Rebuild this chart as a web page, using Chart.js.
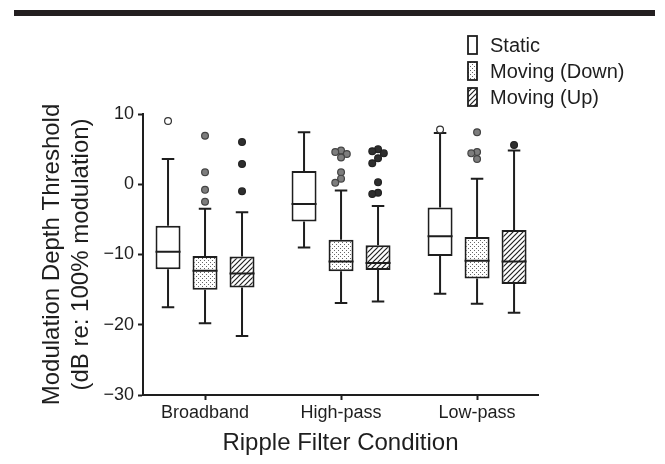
<!DOCTYPE html>
<html>
<head>
<meta charset="utf-8">
<script src="https://cdn.jsdelivr.net/npm/chart.js@4"></script>
<style>
  html, body { margin: 0; padding: 0; background: #fff; }
  #wrap { position: relative; width: 665px; height: 464px; }
  #wrap canvas { position: absolute; left: 0; top: 0; }
  #topbar { position: absolute; left: 14px; top: 10px; width: 641px; height: 6px; background: #231f20; }
</style>
</head>
<body>
<div id="wrap">
  <canvas id="chart" width="665" height="464"></canvas>
  <div id="topbar"></div>
</div>
<script>
const FONT = '"Liberation Sans", Arial, sans-serif';
const INK = '#1e1e1e';

// --- Data (dB re: 100% modulation) ---
const categories = ['Broadband', 'High-pass', 'Low-pass'];
const seriesNames = ['Static', 'Moving (Down)', 'Moving (Up)'];
const yTicks = [-30, -20, -10, 0, 10];

// Static
const staticLow = [-17.5, -9.0, -15.6];
const staticQ1 = [-12.1, -5.3, -10.2];
const staticMed = [-9.6, -2.8, -7.4];
const staticQ3 = [-5.9, 1.9, -3.3];
const staticHigh = [3.6, 7.4, 7.3];
const staticOut = [[9.0], [], [7.8]];

// Moving (Down)
const downLow = [-19.8, -16.9, -17.0];
const downQ1 = [-15.0, -12.4, -13.4];
const downMed = [-12.3, -11.0, -10.9];
const downQ3 = [-10.2, -7.9, -7.5];
const downHigh = [-3.5, -0.9, 0.8];
const downOut = [[6.9, 1.7, -0.8, -2.5], [4.8, 4.6, 4.3, 3.8, 1.7, 0.8, 0.2], [7.4, 4.6, 4.4, 3.6]];

// Moving (Up)
const upLow = [-21.6, -16.7, -18.3];
const upQ1 = [-14.7, -12.2, -14.2];
const upMed = [-12.7, -11.2, -11.0];
const upQ3 = [-10.3, -8.7, -6.5];
const upHigh = [-4.0, -3.1, 4.8];
const upOut = [[6.0, 2.9, -1.0], [5.0, 4.7, 4.4, 3.7, 3.0, 0.3, -1.2, -1.4], [5.6]];

// --- Fill patterns ---
function makeTile(size, draw) {
  const c = document.createElement('canvas');
  c.width = size; c.height = size;
  const g = c.getContext('2d');
  g.fillStyle = '#fff';
  g.fillRect(0, 0, size, size);
  draw(g, size);
  return g.createPattern(c, 'repeat');
}

const dotFill = makeTile(4, (g) => {
  g.fillStyle = '#666';
  g.fillRect(0, 0, 1, 1);
  g.fillRect(2, 2, 1, 1);
});

const hatchFill = makeTile(5, (g, s) => {
  g.strokeStyle = '#222';
  g.lineWidth = 1.2;
  g.beginPath();
  g.moveTo(-1, s + 1); g.lineTo(s + 1, -1);
  g.moveTo(-1, 1); g.lineTo(1, -1);
  g.moveTo(s - 1, s + 1); g.lineTo(s + 1, s - 1);
  g.stroke();
});

function boxData(q1, q3) {
  return categories.map((c, i) => ({ x: i, y: [q1[i], q3[i]] }));
}

// spread outliers sideways when they would overlap
function dodge(pys, r) {
  const placed = [];
  return pys.map(py => {
    for (const k of [0, -1, 1, -2, 2, -3, 3]) {
      const dx = k * r * 1.7;
      if (placed.every(p => Math.hypot(p.dx - dx, p.py - py) >= r * 1.6)) {
        placed.push({ dx, py });
        return dx;
      }
    }
    return 0;
  });
}

// --- Whiskers, medians and outliers on top of the floating bars ---
const boxPlot = {
  id: 'boxPlot',
  afterDatasetsDraw(chart) {
    const ctx = chart.ctx;
    const yScale = chart.scales.y;
    chart.data.datasets.forEach((ds, di) => {
      const meta = chart.getDatasetMeta(di);
      meta.data.forEach((bar, i) => {
        const { x, width } = bar.getProps(['x', 'width'], true);
        const half = width / 2;
        const cap = width * 0.25;
        const [q1, q3] = ds.data[i].y;
        const yMed = yScale.getPixelForValue(ds.med[i]);
        const yQ1 = yScale.getPixelForValue(q1);
        const yQ3 = yScale.getPixelForValue(q3);
        const yLo = yScale.getPixelForValue(ds.low[i]);
        const yHi = yScale.getPixelForValue(ds.high[i]);

        ctx.save();
        ctx.strokeStyle = INK;
        ctx.lineWidth = 2;
        ctx.beginPath();
        ctx.moveTo(x - half, yMed); ctx.lineTo(x + half, yMed);
        ctx.moveTo(x, yQ3); ctx.lineTo(x, yHi);
        ctx.moveTo(x - cap, yHi); ctx.lineTo(x + cap, yHi);
        ctx.moveTo(x, yQ1); ctx.lineTo(x, yLo);
        ctx.moveTo(x - cap, yLo); ctx.lineTo(x + cap, yLo);
        ctx.stroke();

        const r = 3.4;
        const pys = ds.outliers[i].map(v => yScale.getPixelForValue(v));
        const dxs = dodge(pys, r);
        ctx.lineWidth = 1.2;
        ctx.strokeStyle = ds.outlierEdge;
        ctx.fillStyle = ds.outlierColor;
        pys.forEach((py, k) => {
          ctx.beginPath();
          ctx.arc(x + dxs[k], py, r, 0, Math.PI * 2);
          ctx.fill();
          ctx.stroke();
        });
        ctx.restore();
      });
    });
  }
};

// --- Legend stacked in the top-right corner ---
const boxLegend = {
  id: 'boxLegend',
  afterDraw(chart, args, opts) {
    const ctx = chart.ctx;
    ctx.save();
    chart.data.datasets.forEach((ds, i) => {
      const cy = opts.top + i * opts.rowHeight;
      ctx.fillStyle = ds.backgroundColor;
      ctx.fillRect(opts.left, cy - opts.boxHeight / 2, opts.boxWidth, opts.boxHeight);
      ctx.strokeStyle = INK;
      ctx.lineWidth = 1.8;
      ctx.strokeRect(opts.left, cy - opts.boxHeight / 2, opts.boxWidth, opts.boxHeight);
      ctx.fillStyle = INK;
      ctx.font = opts.fontSize + 'px ' + FONT;
      ctx.textBaseline = 'middle';
      ctx.textAlign = 'left';
      ctx.fillText(ds.label, opts.left + opts.boxWidth + opts.gap, cy + 1);
    });
    ctx.restore();
  }
};

const ctx = document.getElementById('chart').getContext('2d');
new Chart(ctx, {
  type: 'bar',
  data: {
    datasets: [
      {
        label: seriesNames[0],
        data: boxData(staticQ1, staticQ3),
        low: staticLow, med: staticMed, high: staticHigh, outliers: staticOut,
        backgroundColor: '#fff',
        outlierColor: '#fff', outlierEdge: '#333'
      },
      {
        label: seriesNames[1],
        data: boxData(downQ1, downQ3),
        low: downLow, med: downMed, high: downHigh, outliers: downOut,
        backgroundColor: dotFill,
        outlierColor: '#7d7d7d', outlierEdge: '#444'
      },
      {
        label: seriesNames[2],
        data: boxData(upQ1, upQ3),
        low: upLow, med: upMed, high: upHigh, outliers: upOut,
        backgroundColor: hatchFill,
        outlierColor: '#2e2e2e', outlierEdge: '#222'
      }
    ]
  },
  options: {
    responsive: false,
    animation: false,
    layout: { padding: { top: 114, right: 127, left: 0, bottom: 0 } },
    datasets: {
      bar: {
        borderColor: INK,
        borderWidth: 2,
        borderSkipped: false,
        categoryPercentage: 0.816,
        barPercentage: 0.676
      }
    },
    plugins: {
      legend: { display: false },
      tooltip: { enabled: false },
      boxLegend: { left: 468, top: 45, rowHeight: 26, boxWidth: 9, boxHeight: 18, gap: 13, fontSize: 20 }
    },
    scales: {
      x: {
        type: 'linear',
        min: -0.456,
        max: 2.448,
        offset: false,
        afterBuildTicks: (s) => { s.ticks = categories.map((c, i) => ({ value: i })); },
        afterFit: (s) => { s.height = 69; },
        ticks: {
          autoSkip: false,
          maxRotation: 0,
          color: INK,
          padding: 2,
          font: { size: 18, family: FONT },
          callback: (v) => categories[v]
        },
        grid: { drawOnChartArea: false, offset: false, tickLength: 5, tickWidth: 2, tickColor: INK },
        border: { color: INK, width: 2 },
        title: {
          display: true,
          text: 'Ripple Filter Condition',
          color: INK,
          font: { size: 24, family: FONT },
          padding: { top: 0, bottom: 6 }
        }
      },
      y: {
        min: -30,
        max: 10,
        afterBuildTicks: (s) => { s.ticks = yTicks.map(v => ({ value: v })); },
        afterFit: (s) => { s.width = 143; },
        ticks: {
          color: INK,
          padding: 4,
          font: { size: 18, family: FONT },
          callback: (v) => String(v).replace('-', '\u2212')
        },
        grid: { drawOnChartArea: false, tickLength: 5, tickWidth: 2, tickColor: INK },
        border: { color: INK, width: 2 },
        title: {
          display: true,
          text: ['Modulation Depth Threshold', '(dB re: 100% modulation)'],
          color: INK,
          font: { size: 24, family: FONT, lineHeight: 1.21 },
          padding: { top: 38, bottom: 0 }
        }
      }
    }
  },
  plugins: [boxPlot, boxLegend]
});
</script>
</body>
</html>
